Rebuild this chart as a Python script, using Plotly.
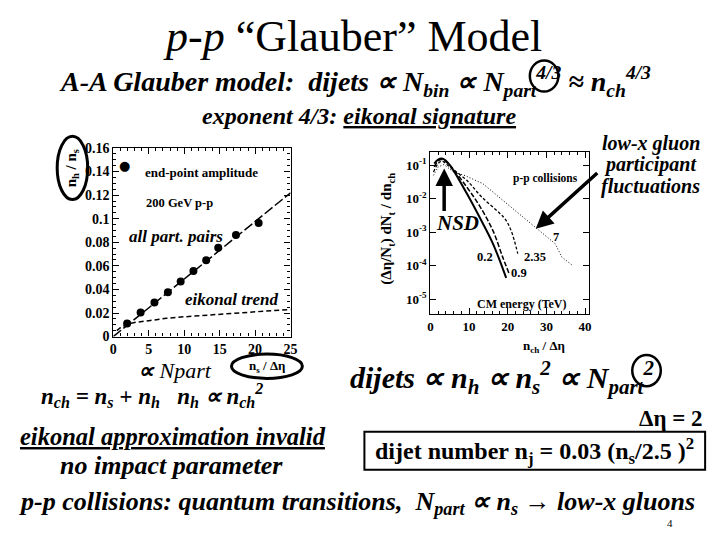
import plotly.graph_objects as go

# ---------------- data ----------------
# left panel: end-point amplitude n_h/n_s vs n_s/deta (200 GeV p-p)
ns_points = [1.95, 3.85, 5.8, 7.7, 9.5, 11.3, 13.1, 14.8, 17.3, 20.5]
nh_ns_points = [0.011, 0.0204, 0.0289, 0.0377, 0.0468, 0.0556, 0.0647, 0.0754, 0.0862, 0.0964]
pairs_x = [0, 25]
pairs_y = [0.0, 0.122]
eik_x = [0.5, 1, 2, 3, 5, 7.5, 10, 12.5, 15, 17.5, 20, 22.5, 25]
eik_y = [0.005, 0.0075, 0.0105, 0.012, 0.0135, 0.0155, 0.0168, 0.018, 0.019, 0.020, 0.021, 0.022, 0.023]
left_xticks = [0, 5, 10, 15, 20, 25]
left_yticks = [0, 0.02, 0.04, 0.06, 0.08, 0.1, 0.12, 0.14, 0.16]
left_yticklabels = ["0", "0.02", "0.04", "0.06", "0.08", "0.1", "0.12", "0.14", "0.16"]

# right panel: multiplicity distributions, p-p collisions at several CM energies
e02_x = [1, 2, 3, 4.5, 6, 9.4, 12.8, 16.2, 19.6]
e02_y = [0.112, 0.148, 0.158, 0.120, 0.069, 0.0145, 2.7e-3, 4.5e-4, 4.3e-5]
e09_x = [1, 2, 3, 5, 9.4, 12.8, 16.2, 18.7, 20.3]
e09_y = [0.089, 0.135, 0.148, 0.100, 0.0224, 5.9e-3, 1.1e-3, 1.8e-4, 6.0e-5]
e235_x = [0.8, 2, 3, 5, 9.4, 13.2, 17.9, 19.4, 20.9, 22.6]
e235_y = [0.063, 0.112, 0.132, 0.089, 0.0355, 0.0115, 3.7e-3, 2.4e-3, 1.1e-3, 2.3e-4]
e7_x = [0.8, 2, 3.5, 6, 9, 13.6, 19.6, 24, 27.2, 30.2, 32.3, 34, 36.6]
e7_y = [0.050, 0.089, 0.105, 0.063, 0.049, 0.028, 7.4e-3, 2.8e-3, 1.4e-3, 7.1e-4, 4.5e-4, 1.8e-4, 1.05e-4]
right_xticks = [0, 10, 20, 30, 40]
right_yticks = [1e-1, 1e-2, 1e-3, 1e-4, 1e-5]
right_yticklabels = ["10<sup>-1</sup>", "10<sup>-2</sup>", "10<sup>-3</sup>", "10<sup>-4</sup>", "10<sup>-5</sup>"]

W, H = 720, 540
SERIF = "Liberation Serif, Times New Roman, serif"


def px(x):
    return x / W


def py(y):
    return 1 - y / H


fig = go.Figure()

# left panel traces
fig.add_trace(go.Scatter(x=pairs_x, y=pairs_y, mode="lines", xaxis="x", yaxis="y",
                         line=dict(color="black", width=1.5, dash="10px,3px"), showlegend=False))
fig.add_trace(go.Scatter(x=eik_x, y=eik_y, mode="lines", xaxis="x", yaxis="y",
                         line=dict(color="black", width=1.5, dash="5px,3px"), showlegend=False))
fig.add_trace(go.Scatter(x=ns_points, y=nh_ns_points, mode="markers", xaxis="x", yaxis="y",
                         marker=dict(color="black", size=8), showlegend=False))

# right panel traces
fig.add_trace(go.Scatter(x=e02_x, y=e02_y, mode="lines", xaxis="x2", yaxis="y2",
                         line=dict(color="black", width=2, shape="spline"), showlegend=False))
fig.add_trace(go.Scatter(x=e09_x, y=e09_y, mode="lines", xaxis="x2", yaxis="y2",
                         line=dict(color="black", width=1.5, dash="5px,2px", shape="spline"), showlegend=False))
fig.add_trace(go.Scatter(x=e235_x, y=e235_y, mode="lines", xaxis="x2", yaxis="y2",
                         line=dict(color="black", width=1.3, dash="3px,2px", shape="spline"), showlegend=False))
fig.add_trace(go.Scatter(x=e7_x, y=e7_y, mode="lines", xaxis="x2", yaxis="y2",
                         line=dict(color="black", width=1, dash="1px,2px"), showlegend=False))

axis_common = dict(showline=True, linecolor="black", linewidth=1.2, mirror="ticks", ticks="inside",
                   ticklen=6, tickcolor="black", showgrid=False, zeroline=False,
                   tickfont=dict(family=SERIF, size=14, color="black"))

fig.update_layout(
    width=W, height=H, margin=dict(l=0, r=0, t=0, b=0),
    paper_bgcolor="white", plot_bgcolor="white", showlegend=False,
    xaxis=dict(domain=[px(111), px(291)], range=[0, 25], anchor="y",
               tickvals=left_xticks, ticktext=[f"<b>{v}</b>" for v in left_xticks],
               minor=dict(ticks="inside", ticklen=3, dtick=1, tickcolor="black"), **axis_common),
    yaxis=dict(domain=[py(339), py(145)], range=[0, 0.16], anchor="x",
               tickvals=left_yticks, ticktext=[f"<b>{t}</b>" for t in left_yticklabels],
               minor=dict(ticks="inside", ticklen=3, dtick=0.005, tickcolor="black"), **axis_common),
    xaxis2=dict(domain=[px(433), px(594)], range=[0, 41], anchor="y2",
                tickvals=right_xticks, ticktext=[f"<b>{v}</b>" for v in right_xticks],
                minor=dict(ticks="inside", ticklen=3, dtick=2, tickcolor="black"),
                **{**axis_common, "tickfont": dict(family=SERIF, size=13, color="black")}),
    yaxis2=dict(domain=[py(316), py(149)], type="log", range=[-5.45, -0.6], anchor="x2",
                tickvals=right_yticks, ticktext=[f"<b>{t}</b>" for t in right_yticklabels],
                **{**axis_common, "tickfont": dict(family=SERIF, size=13, color="black")}),
)

ann = []


def text(x, y, s, size, xanchor="center", yanchor="middle", angle=0):
    ann.append(dict(x=px(x), y=py(y), xref="paper", yref="paper", text=s, showarrow=False,
                    xanchor=xanchor, yanchor=yanchor, textangle=angle,
                    font=dict(family=SERIF, size=size, color="black")))


# title and header lines
text(354, 30, "<i>p-p</i> \u201cGlauber\u201d Model", 44)
text(356, 77, "<b><i>A-A Glauber model:  dijets \u221d N<sub>bin</sub> \u221d N<sub>part</sub>"
              "<sup>4/3</sup> \u2248 n<sub>ch</sub><sup>4/3</sup></i></b>", 28)
text(360, 112, "<b><i>exponent 4/3: <u>eikonal signature</u></i></b>", 24)

# right side comment
text(657, 140, "<b><i>low-x gluon</i></b>", 20)
text(657, 162, "<b><i>participant</i></b>", 20)
text(657, 185, "<b><i>fluctuations</i></b>", 20)

# left panel annotations
text(69, 166, "<b>n<sub>h</sub> / n<sub>s</sub></b>", 15, angle=-90)
text(141, 170, "<b>end-point amplitude</b>", 13, xanchor="left")
ann.append(dict(x=1.6, y=0.1455, xref="x", yref="y", text="\u25cf", showarrow=False,
                font=dict(family="DejaVu Sans", size=13, color="black")))
text(178, 202, "<b>200 GeV p-p</b>", 12.5)
text(175, 236, "<b><i>all part. pairs</i></b>", 17)
text(232, 301, "<b><i>eikonal trend</i></b>", 17)
text(267, 370, "<b>n<sub>s</sub> / \u0394\u03b7</b>", 13)

# right panel annotations
text(389, 228, "<b>(\u0394\u03b7/N<sub>t</sub>) dN<sub>t</sub> / dn<sub>ch</sub></b>", 15, angle=-90)
text(550, 176, "<b>p-p collisions</b>", 11.5)
text(526, 305, "<b>CM energy (TeV)</b>", 12)
text(488, 257, "<b>0.2</b>", 12.5)
text(523, 274, "<b>0.9</b>", 12.5)
text(539, 257, "<b>2.35</b>", 12.5)
text(561, 237, "<b>7</b>", 12.5)
text(461, 222, "<b><i>NSD</i></b>", 21)
text(548, 349, "<b>n<sub>ch</sub> / \u0394\u03b7</b>", 13)

# arrows
ann.append(dict(x=px(447), y=py(166), xref="paper", yref="paper", ax=0, ay=44,
                axref="pixel", ayref="pixel", showarrow=True, arrowhead=2, arrowsize=1,
                arrowwidth=3.5, arrowcolor="black", text=""))
ann.append(dict(x=px(540), y=py(228), xref="paper", yref="paper", ax=63, ay=-57,
                axref="pixel", ayref="pixel", showarrow=True, arrowhead=2, arrowsize=1,
                arrowwidth=3.5, arrowcolor="black", text=""))

# lower text block
text(174, 374, "<i><b>\u221d</b> Npart</i>", 22)
text(150, 400, "<b><i>n<sub>ch</sub> = n<sub>s</sub> + n<sub>h</sub>   n<sub>h</sub> \u221d n<sub>ch</sub><sup>2</sup></i></b>", 23)
text(349, 381, "<b><i>dijets \u221d n<sub>h</sub> \u221d n<sub>s</sub><sup>2</sup> \u221d N<sub>part</sub><sup>2</sup></i></b>",
     30, xanchor="left")
text(712, 423, "<b>\u0394\u03b7 = 2</b>", 23, xanchor="right")
text(172, 442, "<b><i><u>eikonal approximation invalid</u></i></b>", 24.5)
text(539, 457, "<b>dijet number n<sub>j</sub> = 0.03 (n<sub>s</sub>/2.5 )<sup>2</sup></b>", 24)
text(170, 472, "<b><i>no impact parameter</i></b>", 26)
text(358, 510, "<b><i>p-p collisions: quantum transitions,  N<sub>part</sub> \u221d n<sub>s</sub> \u2192 low-x gluons</i></b>", 26)
text(676, 531, "4", 11)

fig.update_layout(annotations=ann)

shapes = [
    # ellipse around left y title
    dict(type="circle", xref="paper", yref="paper", x0=px(54), x1=px(85), y0=py(198), y1=py(133),
         line=dict(color="black", width=3)),
    # ellipse around left x title
    dict(type="circle", xref="paper", yref="paper", x0=px(231), x1=px(303), y0=py(382), y1=py(357),
         line=dict(color="black", width=3)),
    # circle around exponent 4/3
    dict(type="circle", xref="paper", yref="paper", x0=px(534), x1=px(563), y0=py(87), y1=py(55),
         line=dict(color="black", width=2.5)),
    # circle around exponent 2
    dict(type="circle", xref="paper", yref="paper", x0=px(638), x1=px(667), y0=py(390), y1=py(358),
         line=dict(color="black", width=2.5)),
    # dijet box
    dict(type="rect", xref="paper", yref="paper", x0=px(366), x1=px(712), y0=py(476), y1=py(437),
         line=dict(color="black", width=2)),
]
fig.update_layout(shapes=shapes)

fig.write_html("out.html", config={"displayModeBar": False},
               post_script="document.body.style.margin='0px';")
